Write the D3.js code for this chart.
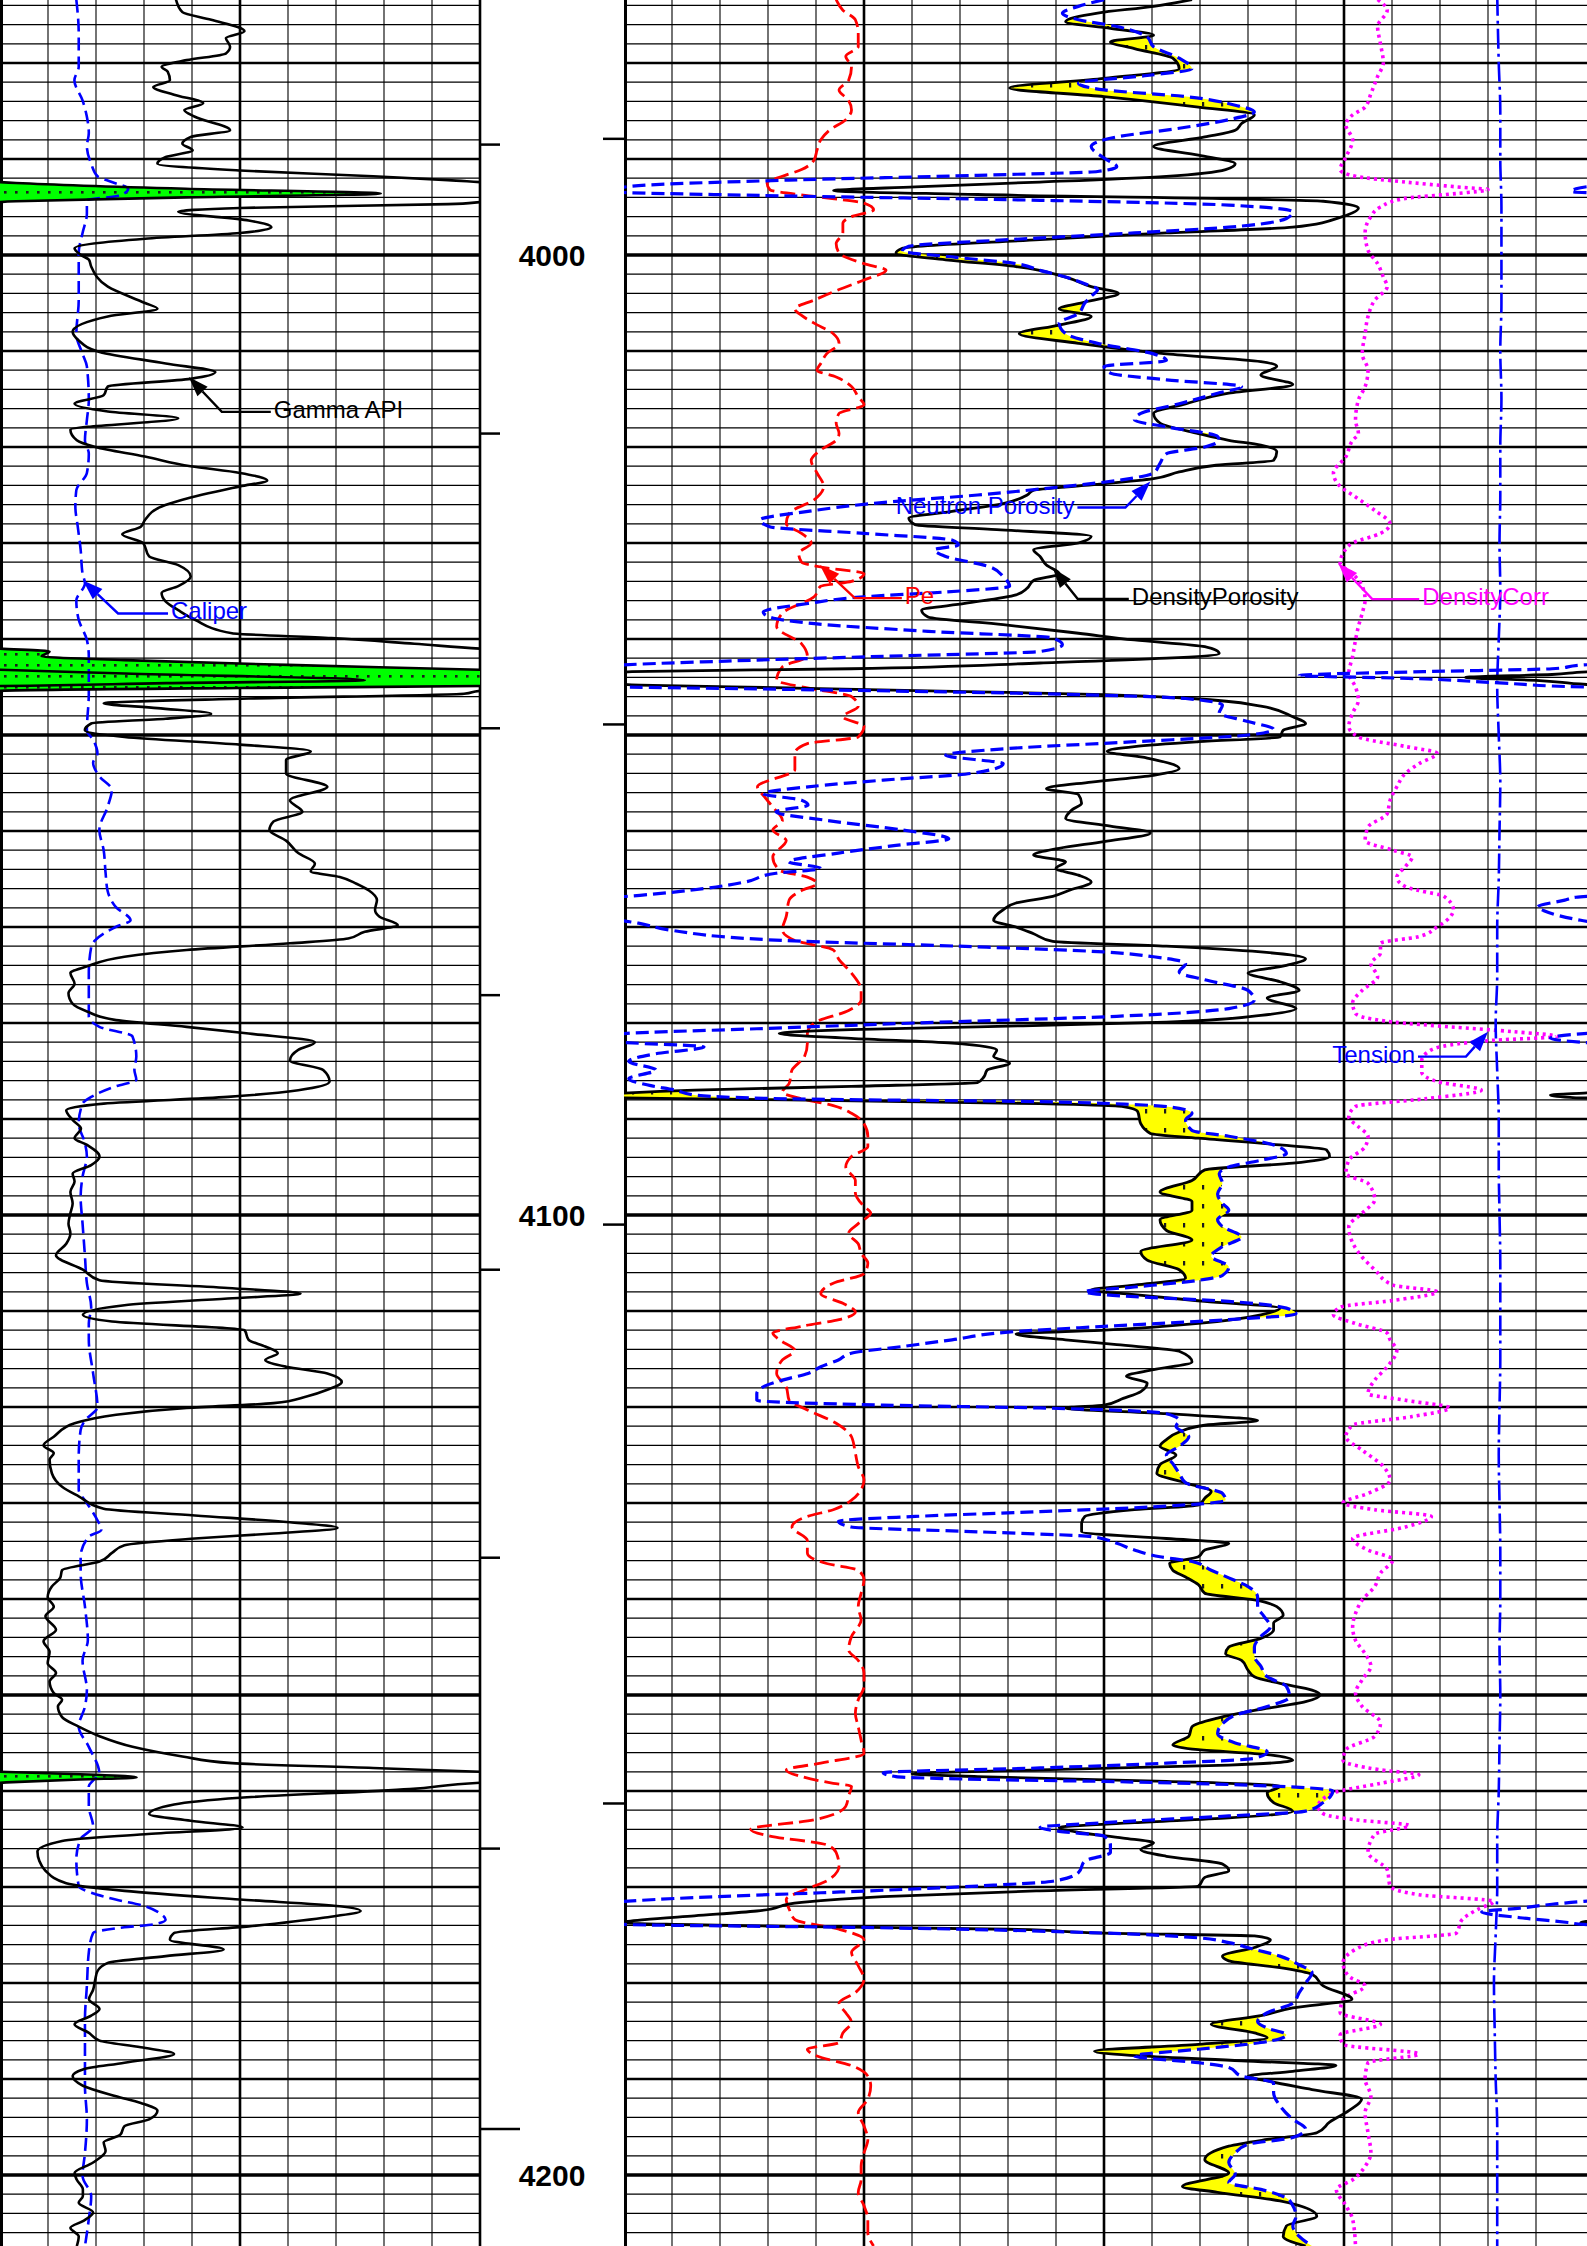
<!DOCTYPE html>
<html>
<head>
<meta charset="utf-8">
<script src="https://cdn.jsdelivr.net/npm/d3@7"></script>
<style>
  html, body { margin: 0; padding: 0; background: #fff; }
  svg { display: block; }
  text { font-family: "Liberation Sans", Arial, sans-serif; }
</style>
</head>
<body>
<div id="chart"></div>
<script>
// ---- datos del registro: [profundidad (ft), valor] ----
const gamma = [ // API
  [3973.4,55.0],[3974.7,57.0],[3975.5,66.0],[3976.7,76.4],[3977.4,70.6],[3978.3,71.9],[3979.0,70.6],[3979.7,58.3],
  [3980.4,50.5],[3980.9,52.4],[3981.8,53.1],[3982.5,47.9],[3983.3,54.4],[3984.2,63.5],[3984.9,57.6],[3985.6,60.9],
  [3987.0,71.9],[3987.7,59.6],[3988.4,57.0],[3989.1,60.2],[3989.8,51.8],[3990.5,49.2],[3991.2,75.0],[3991.8,116.6],
  [3992.2,140],[3992.5,155],[3993.1,208],[3993.6,269],[3994.0,208],[3994.4,155],[3994.7,140],[3995.1,75.0],
  [3995.5,55.7],[3996.4,77.7],[3997.1,84.8],[3997.7,75.0],[3998.3,45.3],[3999.3,23.3],[4000.0,25.3],[4000.5,27.8],
  [4001.2,28.5],[4003.3,33.7],[4005.0,45.3],[4005.6,49.2],[4006.4,33.7],[4008.0,22.7],[4008.9,24.6],[4010.1,31.1],
  [4011.3,51.8],[4012.2,67.3],[4012.9,59.6],[4013.7,33.7],[4014.6,32.4],[4015.5,23.3],[4016.3,33.7],[4017.0,55.7],
  [4018.2,22.0],[4019.3,24.0],[4020.0,29.8],[4021.0,45.3],[4022.0,59.6],[4022.7,75.0],[4023.5,83.5],[4024.1,75.0],
  [4025.5,57.0],[4026.2,50.5],[4027.6,45.3],[4028.3,44.0],[4029.1,38.2],[4030.0,44.7],[4031.4,46.6],[4032.3,55.7],
  [4033.5,59.6],[4034.5,55.7],[4035.2,50.5],[4036.1,51.8],[4037.0,55.7],[4038.0,60.9],[4039.4,72.5],[4039.9,103.6],
  [4040.5,129.5],[4041.0,150],[4041.3,165.5],[4041.8,163],[4042.2,189],[4042.7,240],[4043.2,300],[4043.6,339],
  [4044.3,414],[4044.6,352],[4044.9,300],[4045.1,225],[4045.4,150],[4045.7,145],[4046.2,77.7],[4046.7,32.4],
  [4047.2,49.2],[4047.8,66.0],[4048.3,51.8],[4048.8,28.5],[4049.5,26.5],[4050.2,38.9],[4051.0,75.0],[4051.7,97.1],
  [4052.6,89.4],[4054.0,89.4],[4055.4,102.3],[4056.8,90.6],[4058.0,94.5],[4059.0,85.5],[4059.9,84.2],[4061.0,89.4],
  [4062.3,93.2],[4063.4,98.4],[4064.2,97.1],[4064.8,106.2],[4065.5,111.4],[4066.2,115.3],[4067.2,117.8],[4068.2,117.2],
  [4068.9,118.5],[4069.8,124.3],[4070.5,114.0],[4071.2,108.8],[4071.7,90.6],[4072.4,58.3],[4073.1,38.9],[4074.1,27.2],
  [4074.8,22.0],[4075.9,23.3],[4076.9,21.4],[4078.0,22.7],[4078.8,27.2],[4079.7,36.3],[4080.4,58.3],[4081.1,77.7],
  [4082.0,98.4],[4082.8,93.2],[4083.9,90.6],[4084.9,101.0],[4086.1,103.0],[4087.0,93.2],[4087.7,71.2],[4088.4,32.4],
  [4089.1,20.7],[4090.1,22.7],[4091.0,25.3],[4092.0,23.3],[4092.7,27.2],[4093.9,31.1],[4094.8,28.5],[4095.7,22.7],
  [4096.5,23.3],[4097.6,22.0],[4098.8,22.7],[4099.8,22.0],[4100.9,21.4],[4101.9,22.0],[4103.0,20.7],[4104.2,17.5],
  [4105.7,25.9],[4106.8,31.1],[4107.6,71.2],[4108.2,93.9],[4108.7,71.2],[4109.4,38.9],[4110.4,25.9],[4111.1,35.0],
  [4112.0,76.4],[4113.0,77.7],[4113.7,82.9],[4114.4,86.8],[4115.1,82.9],[4115.8,89.4],[4116.5,102.3],[4117.4,106.8],
  [4118.2,102.3],[4118.9,95.8],[4119.6,85.5],[4120.1,58.3],[4120.8,36.3],[4121.7,23.3],[4123.1,16.8],[4124.0,13.6],
  [4124.8,16.8],[4125.5,15.5],[4126.9,16.2],[4128.3,19.4],[4129.3,24.6],[4130.6,32.4],[4131.3,60.9],[4132.0,90.6],
  [4132.6,105.5],[4133.2,84.2],[4133.7,60.9],[4134.4,38.9],[4135.2,35.0],[4136.1,31.1],[4137.0,19.4],[4137.8,18.8],
  [4138.7,16.2],[4139.8,14.9],[4140.8,16.8],[4141.8,14.2],[4143.2,17.5],[4144.4,13.6],[4145.5,15.5],[4146.7,14.9],
  [4147.7,17.5],[4148.6,15.5],[4149.8,16.8],[4150.5,19.4],[4151.2,18.1],[4152.3,19.4],[4153.3,24.6],[4154.3,31.1],
  [4155.4,41.4],[4156.4,57.0],[4157.1,72.5],[4157.6,116.6],[4158.0,150],[4158.3,180],[4158.6,192.7],[4158.8,175],
  [4159.1,152],[4159.8,128],[4160.7,75.0],[4161.4,54.4],[4162.4,46.6],[4163.1,59.6],[4163.8,75.8],[4164.5,45.3],
  [4165.2,19.4],[4166.3,11.7],[4167.3,12.3],[4168.3,14.2],[4169.6,20.7],[4170.4,38.9],[4171.3,75.0],[4172.0,106.2],
  [4172.5,112.7],[4173.2,101.0],[4174.1,77.7],[4174.8,54.4],[4175.5,53.1],[4176.5,69.9],[4177.2,51.8],[4177.9,33.7],
  [4178.8,30.4],[4179.6,29.8],[4180.7,29.1],[4181.7,27.8],[4182.7,31.1],[4183.4,28.5],[4184.3,23.3],[4185.2,27.8],
  [4186.0,31.1],[4186.7,44.0],[4187.4,54.4],[4188.3,38.9],[4189.0,25.9],[4189.7,22.7],[4190.7,25.9],[4191.8,36.3],
  [4192.5,44.0],[4193.3,49.2],[4194.2,46.6],[4194.9,38.9],[4195.8,37.6],[4196.6,32.4],[4197.5,33.0],[4198.7,29.1],
  [4199.8,23.3],[4200.5,24.0],[4201.5,25.9],[4202.2,25.9],[4202.9,24.6],[4203.9,29.1],[4204.8,25.9],[4205.5,22.0],
  [4206.4,24.6],[4207.4,24.0]
];

const caliper = [ // pulgadas
  [3973.4,7.59],[3976.9,7.64],[3980.4,7.64],[3981.8,7.55],[3983.9,7.72],[3985.6,7.81],[3987.3,7.85],[3988.7,7.81],
  [3990.5,7.90],[3991.8,8.03],[3992.4,8.33],[3993.1,8.67],[3993.8,8.50],[3994.3,7.81],[3995.7,7.81],[3997.7,7.72],
  [3999.8,7.64],[4004.7,7.64],[4008.2,7.59],[4010.3,7.72],[4011.6,7.81],[4015.1,7.85],[4017.2,7.81],[4019.3,7.77],
  [4020.7,7.85],[4022.7,7.81],[4024.5,7.59],[4026.2,7.57],[4028.3,7.62],[4030.7,7.68],[4033.2,7.72],[4034.2,7.77],
  [4036.0,7.59],[4038.0,7.64],[4040.1,7.81],[4041.8,7.85],[4045.7,7.85],[4049.5,7.81],[4050.5,7.94],[4051.9,8.03],
  [4052.9,7.94],[4054.3,8.07],[4055.7,8.33],[4057.5,8.24],[4059.9,8.07],[4062.0,8.16],[4064.4,8.20],[4066.2,8.24],
  [4067.9,8.41],[4069.3,8.72],[4070.0,8.41],[4071.4,7.98],[4072.1,7.90],[4074.8,7.85],[4079.3,7.85],[4080.4,8.07],
  [4081.4,8.76],[4083.5,8.84],[4084.9,8.80],[4085.9,8.84],[4086.6,8.41],[4087.7,7.90],[4088.4,7.72],[4090.5,7.64],
  [4092.5,7.77],[4093.9,7.81],[4096.0,7.72],[4098.1,7.68],[4100.9,7.72],[4104.3,7.77],[4107.1,7.81],[4109.6,7.90],
  [4111.3,7.85],[4113.0,7.85],[4116.5,7.94],[4120.0,8.03],[4121.4,7.77],[4122.4,7.68],[4125.2,7.64],[4128.6,7.64],
  [4130.0,7.81],[4131.8,8.03],[4132.8,8.11],[4133.5,7.85],[4135.6,7.68],[4137.3,7.68],[4140.8,7.77],[4144.3,7.83],
  [4146.4,7.72],[4149.5,7.81],[4151.2,7.77],[4153.3,7.64],[4155.4,7.85],[4158.2,8.07],[4158.9,7.94],[4159.5,7.85],
  [4161.6,7.85],[4163.7,7.94],[4165.0,7.68],[4167.1,7.59],[4169.9,7.64],[4170.6,7.90],[4171.3,8.41],[4172.0,9.02],
  [4172.7,9.32],[4173.4,9.45],[4173.9,9.19],[4174.2,8.59],[4174.8,7.94],[4176.8,7.85],[4180.3,7.81],[4183.8,7.77],
  [4190.7,7.77],[4194.2,7.81],[4197.7,7.77],[4200.1,7.72],[4202.2,7.90],[4204.6,7.85],[4207.4,7.77]
];

const densityPorosity = [ // v/v
  [3973.4,0.095],[3974.1,0.119],[3974.8,0.154],[3975.7,0.174],[3976.4,0.146],[3977.1,0.119],[3977.8,0.146],[3978.5,0.131],
  [3979.5,0.107],[3980.6,0.103],[3981.6,0.150],[3982.6,0.209],[3983.5,0.150],[3984.6,0.091],[3985.4,0.056],[3986.3,0.064],
  [3987.0,0.068],[3987.7,0.087],[3988.7,0.119],[3989.6,0.091],[3990.5,0.068],[3991.1,0.074],[3991.8,0.111],[3992.4,0.190],
  [3992.9,0.268],[3993.3,0.319],[3993.7,0.229],[3994.4,0.013],[3995.1,-0.009],[3996.0,0.001],[3997.1,0.032],[3997.7,0.111],
  [3998.4,0.190],[3999.3,0.276],[3999.8,0.280],[4000.5,0.249],[4001.2,0.205],[4002.3,0.174],[4003.3,0.158],[4004.0,0.141],
  [4004.9,0.162],[4005.6,0.178],[4006.4,0.158],[4007.3,0.178],[4008.2,0.203],[4009.2,0.166],[4010.3,0.111],[4011.1,0.052],
  [4011.6,0.042],[4012.5,0.052],[4013.5,0.032],[4014.4,0.072],[4015.5,0.099],[4016.5,0.119],[4017.5,0.115],[4018.6,0.091],
  [4019.3,0.072],[4019.8,0.052],[4020.5,0.042],[4021.4,0.044],[4021.9,0.080],[4022.6,0.103],[4023.3,0.119],[4024.0,0.162],
  [4024.5,0.194],[4025.0,0.198],[4025.9,0.213],[4026.7,0.245],[4027.4,0.272],[4028.1,0.268],[4028.6,0.217],[4029.3,0.158],
  [4030.0,0.166],[4030.7,0.194],[4031.4,0.190],[4032.3,0.186],[4033.2,0.178],[4033.9,0.194],[4034.7,0.198],[4035.4,0.205],
  [4036.3,0.237],[4037.0,0.264],[4037.7,0.260],[4038.5,0.213],[4039.4,0.166],[4040.1,0.131],[4040.8,0.087],[4041.5,0.078],
  [4042.0,0.111],[4042.5,0.190],[4043.1,0.308],[4043.4,0.445],[4043.7,0.470],[4044.0,0.524],[4044.3,0.480],[4044.8,0.440],
  [4045.1,0.347],[4045.5,0.229],[4045.8,0.150],[4046.2,0.095],[4047.0,0.052],[4048.1,0.032],[4048.8,0.024],[4049.5,0.038],
  [4050.2,0.040],[4050.7,0.091],[4051.2,0.131],[4051.7,0.148],[4052.4,0.123],[4053.5,0.103],[4054.2,0.119],[4054.9,0.158],
  [4055.6,0.186],[4056.2,0.166],[4057.1,0.164],[4057.8,0.170],[4058.7,0.174],[4059.5,0.146],[4060.2,0.121],[4061.1,0.150],
  [4061.8,0.178],[4062.5,0.194],[4063.2,0.174],[4063.9,0.180],[4064.6,0.166],[4065.3,0.158],[4066.2,0.172],[4066.8,0.182],
  [4067.5,0.205],[4068.2,0.213],[4069.3,0.219],[4070.0,0.205],[4070.7,0.194],[4071.5,0.182],[4072.0,0.111],[4072.6,0.052],
  [4073.3,0.024],[4074.0,0.036],[4074.8,0.060],[4075.7,0.040],[4076.6,0.028],[4077.4,0.048],[4078.5,0.030],[4079.2,0.052],
  [4079.9,0.111],[4080.4,0.229],[4080.7,0.308],[4081.1,0.353],[4081.6,0.308],[4082.1,0.245],[4082.8,0.217],[4083.5,0.219],
  [4084.2,0.209],[4084.9,0.223],[4085.6,0.225],[4086.2,0.229],[4086.6,0.308],[4087.0,0.406],[4087.3,0.450],[4087.5,0.471],
  [4087.8,0.455],[4088.0,0.347],[4088.4,0.190],[4088.7,0.138],[4089.2,0.129],[4090.5,0.127],[4091.5,0.121],[4092.0,0.091],
  [4092.7,0.040],[4093.2,0.011],[4093.9,0.009],[4094.6,0.032],[4095.3,0.087],[4096.4,0.095],[4097.6,0.115],[4098.6,0.095],
  [4099.5,0.095],[4100.5,0.115],[4101.6,0.111],[4102.6,0.095],[4103.8,0.127],[4104.7,0.123],[4105.7,0.103],[4106.6,0.099],
  [4107.3,0.131],[4107.8,0.158],[4108.3,0.131],[4109.0,0.087],[4109.7,0.040],[4110.4,0.052],[4111.3,0.091],[4112.0,0.150],
  [4112.4,0.205],[4113.0,0.174],[4113.5,0.142],[4114.2,0.103],[4115.3,0.095],[4116.1,0.119],[4116.8,0.136],[4117.5,0.123],
  [4118.4,0.127],[4119.1,0.138],[4119.8,0.150],[4120.1,0.174],[4120.7,0.111],[4121.4,0.054],[4121.9,0.087],[4122.6,0.103],
  [4123.4,0.111],[4124.1,0.115],[4125.0,0.105],[4126.0,0.115],[4126.9,0.117],[4127.9,0.099],[4128.8,0.083],[4129.5,0.087],
  [4130.2,0.091],[4130.7,0.131],[4131.4,0.162],[4132.1,0.164],[4133.0,0.164],[4133.7,0.111],[4134.2,0.072],[4134.9,0.087],
  [4135.6,0.091],[4136.3,0.109],[4137.0,0.107],[4137.7,0.099],[4138.5,0.091],[4139.4,0.087],[4140.1,0.056],[4140.8,0.042],
  [4141.7,0.038],[4142.5,0.044],[4143.2,0.044],[4144.1,0.052],[4145.0,0.072],[4145.7,0.074],[4146.4,0.064],[4147.4,0.060],
  [4148.1,0.056],[4148.8,0.040],[4149.5,0.020],[4150.0,0.015],[4150.7,0.024],[4151.6,0.056],[4152.4,0.079],[4153.3,0.095],
  [4154.3,0.097],[4155.2,0.107],[4155.7,0.091],[4156.2,0.048],[4156.8,0.032],[4157.3,0.072],[4157.8,0.190],[4158.2,0.270],
  [4158.5,0.229],[4159.0,0.111],[4159.5,0.040],[4160.2,0.048],[4161.2,0.044],[4162.1,0.032],[4162.8,0.072],[4163.3,0.131],
  [4163.8,0.178],[4164.3,0.166],[4164.9,0.138],[4165.4,0.119],[4166.1,0.127],[4166.8,0.111],[4167.6,0.076],[4168.3,0.072],
  [4169.0,0.087],[4169.9,0.091],[4170.4,0.190],[4171.0,0.288],[4171.6,0.339],[4172.5,0.367],[4173.0,0.406],[4173.4,0.437],
  [4173.7,0.452],[4174.1,0.347],[4174.4,0.210],[4174.8,0.150],[4175.1,0.056],[4175.5,0.046],[4176.3,0.056],[4177.2,0.076],
  [4177.7,0.072],[4178.4,0.040],[4179.1,0.020],[4180.3,0.013],[4181.7,-0.005],[4182.6,0.032],[4183.4,0.052],[4184.3,0.083],
  [4185.2,0.056],[4185.7,0.048],[4186.4,0.091],[4187.1,0.156],[4187.6,0.127],[4188.1,0.064],[4188.6,0.005],[4189.2,0.032],
  [4189.7,0.060],[4190.2,0.048],[4191.1,0.020],[4192.1,-0.011],[4193.3,-0.003],[4194.5,0.009],[4195.6,0.017],[4196.3,0.048],
  [4197.0,0.072],[4198.4,0.087],[4199.8,0.072],[4201.2,0.101],[4201.8,0.079],[4202.7,0.040],[4204.3,0.017],[4205.3,0.036],
  [4206.4,0.038],[4207.4,0.024]
];

const neutronPorosity = [ // v/v
  [3973.4,0.150],[3974.1,0.166],[3974.8,0.176],[3975.5,0.166],[3976.2,0.142],[3977.3,0.123],[3978.3,0.119],[3979.5,0.103],
  [3980.6,0.095],[3981.3,0.123],[3982.1,0.166],[3982.8,0.150],[3983.5,0.099],[3984.4,0.068],[3985.1,0.056],[3985.9,0.072],
  [3986.8,0.103],[3987.7,0.142],[3988.7,0.158],[3989.9,0.150],[3990.8,0.142],[3991.3,0.154],[3991.7,0.229],[3992.2,0.347],
  [3992.7,0.434],[3993.1,0.455],[3993.4,0.458],[3993.8,0.363],[3994.3,0.190],[3994.8,0.072],[3995.5,0.032],[3996.2,0.036],
  [3997.1,0.072],[3997.7,0.131],[3998.4,0.209],[3999.1,0.272],[3999.6,0.276],[4000.2,0.245],[4000.9,0.205],[4001.6,0.190],
  [4002.3,0.174],[4003.0,0.162],[4003.6,0.154],[4004.3,0.158],[4005.0,0.162],[4006.1,0.166],[4007.1,0.178],[4008.2,0.174],
  [4009.2,0.154],[4010.3,0.119],[4011.0,0.111],[4011.6,0.150],[4012.3,0.146],[4013.0,0.111],[4013.7,0.064],[4014.4,0.079],
  [4015.5,0.103],[4016.5,0.127],[4017.2,0.131],[4017.9,0.111],[4018.9,0.079],[4019.3,0.078],[4020.0,0.087],[4020.7,0.111],
  [4021.7,0.115],[4022.7,0.119],[4023.4,0.138],[4024.1,0.174],[4025.0,0.229],[4025.9,0.296],[4026.7,0.335],[4027.6,0.365],
  [4028.3,0.359],[4029.0,0.300],[4029.7,0.245],[4030.2,0.241],[4030.7,0.256],[4031.4,0.249],[4032.5,0.221],[4033.5,0.213],
  [4034.5,0.209],[4035.1,0.249],[4035.6,0.300],[4036.3,0.335],[4037.2,0.363],[4037.7,0.359],[4038.4,0.331],[4039.2,0.260],
  [4039.9,0.182],[4040.6,0.176],[4041.3,0.190],[4041.8,0.288],[4042.3,0.386],[4042.7,0.450],[4043.1,0.470],[4043.4,0.550],
  [4043.8,0.628],[4044.1,0.560],[4044.6,0.500],[4045.0,0.450],[4045.2,0.367],[4045.7,0.190],[4046.2,0.099],[4046.9,0.076],
  [4047.7,0.078],[4048.6,0.060],[4049.4,0.044],[4050.0,0.060],[4050.7,0.131],[4051.4,0.209],[4052.1,0.249],[4053.0,0.213],
  [4054.0,0.233],[4054.7,0.288],[4055.4,0.335],[4056.1,0.363],[4056.8,0.339],[4057.3,0.335],[4058.0,0.355],[4058.9,0.323],
  [4059.9,0.276],[4060.8,0.247],[4061.5,0.280],[4062.3,0.316],[4063.2,0.347],[4063.9,0.327],[4064.4,0.355],[4065.3,0.374],
  [4066.0,0.400],[4066.7,0.440],[4066.9,0.455],[4067.2,0.462],[4067.9,0.479],[4068.3,0.475],[4068.8,0.466],[4069.3,0.452],
  [4069.6,0.441],[4070.3,0.422],[4071.4,0.351],[4072.0,0.241],[4072.6,0.150],[4073.1,0.119],[4073.8,0.099],[4074.7,0.103],
  [4075.5,0.087],[4076.6,0.060],[4077.6,0.056],[4078.5,0.072],[4079.3,0.142],[4080.0,0.268],[4080.6,0.367],[4081.1,0.450],
  [4081.6,0.471],[4082.0,0.452],[4082.5,0.400],[4083.2,0.430],[4084.0,0.447],[4084.9,0.430],[4085.8,0.447],[4086.5,0.434],
  [4087.0,0.418],[4087.5,0.406],[4087.9,0.347],[4088.2,0.190],[4088.5,0.131],[4088.9,0.103],[4089.4,0.095],[4090.1,0.099],
  [4091.2,0.095],[4091.8,0.072],[4092.7,0.044],[4093.6,0.036],[4094.3,0.052],[4095.0,0.072],[4095.7,0.078],[4096.7,0.076],
  [4097.8,0.079],[4098.8,0.076],[4099.5,0.072],[4100.5,0.079],[4101.2,0.076],[4102.3,0.064],[4103.3,0.076],[4104.3,0.083],
  [4105.4,0.072],[4106.3,0.076],[4106.8,0.091],[4107.5,0.131],[4108.0,0.162],[4108.3,0.150],[4109.0,0.072],[4109.7,0.036],
  [4110.3,0.030],[4110.9,0.072],[4111.6,0.150],[4112.2,0.210],[4113.0,0.245],[4113.7,0.276],[4114.4,0.308],[4115.1,0.316],
  [4115.8,0.327],[4116.5,0.335],[4117.2,0.351],[4117.9,0.363],[4118.6,0.367],[4119.3,0.367],[4119.8,0.288],[4120.1,0.190],
  [4120.7,0.111],[4121.4,0.103],[4122.0,0.105],[4123.1,0.097],[4124.1,0.103],[4125.0,0.111],[4125.9,0.107],[4126.9,0.103],
  [4127.9,0.099],[4129.0,0.076],[4129.7,0.074],[4130.4,0.119],[4130.9,0.190],[4131.4,0.268],[4131.9,0.316],[4132.5,0.308],
  [4133.0,0.229],[4133.5,0.158],[4134.2,0.142],[4134.9,0.131],[4135.6,0.115],[4136.1,0.095],[4137.0,0.083],[4137.8,0.072],
  [4138.7,0.060],[4139.8,0.054],[4140.8,0.054],[4141.8,0.050],[4142.9,0.046],[4143.9,0.052],[4145.0,0.056],[4146.0,0.056],
  [4147.0,0.052],[4148.1,0.048],[4149.1,0.036],[4150.2,0.034],[4151.2,0.048],[4152.1,0.068],[4153.0,0.076],[4154.0,0.079],
  [4155.0,0.068],[4155.9,0.048],[4156.6,0.056],[4157.1,0.111],[4157.6,0.190],[4158.1,0.288],[4158.5,0.280],[4158.9,0.190],
  [4159.0,0.150],[4160.0,0.007],[4161.2,0.013],[4162.1,0.024],[4162.6,0.072],[4163.3,0.150],[4163.8,0.190],[4164.2,0.178],
  [4164.7,0.150],[4165.6,0.146],[4166.4,0.146],[4167.3,0.162],[4168.5,0.166],[4169.4,0.182],[4169.9,0.229],[4170.6,0.327],
  [4171.1,0.406],[4171.5,0.450],[4171.8,0.470],[4172.2,0.490],[4172.6,0.514],[4173.2,0.490],[4173.7,0.460],[4173.9,0.450],
  [4174.2,0.308],[4174.8,0.150],[4175.3,0.091],[4175.8,0.072],[4176.5,0.056],[4177.2,0.040],[4178.1,0.028],[4178.9,0.020],
  [4180.0,0.024],[4181.0,0.028],[4182.1,0.032],[4183.1,0.048],[4184.0,0.054],[4184.7,0.048],[4185.4,0.036],[4186.2,0.052],
  [4186.9,0.091],[4187.6,0.131],[4188.3,0.091],[4188.8,0.072],[4189.7,0.064],[4190.4,0.044],[4191.4,0.044],[4192.8,0.040],
  [4194.2,0.032],[4195.2,0.024],[4196.1,0.032],[4196.8,0.060],[4197.7,0.068],[4198.7,0.072],[4199.9,0.068],[4200.8,0.072],
  [4201.5,0.052],[4202.4,0.036],[4203.2,0.032],[4204.3,0.030],[4205.3,0.032],[4206.4,0.028],[4207.4,0.020]
];

const photoElectric = [ // b/e
  [3973.4,2.21],[3974.5,2.28],[3975.5,2.41],[3976.9,2.44],[3978.3,2.44],[3979.3,2.31],[3980.4,2.37],[3981.8,2.34],
  [3982.8,2.24],[3983.9,2.34],[3984.9,2.37],[3985.9,2.31],[3987.0,2.14],[3988.0,2.05],[3989.1,2.01],[3990.1,1.98],
  [3991.1,1.85],[3991.8,1.65],[3992.5,1.49],[3993.2,1.52],[3993.9,1.98],[3994.6,2.50],[3995.3,2.60],[3996.0,2.37],
  [3996.7,2.28],[3997.7,2.28],[3998.8,2.21],[3999.8,2.24],[4000.9,2.50],[4001.6,2.73],[4002.6,2.50],[4003.6,2.24],
  [4004.7,1.98],[4005.6,1.78],[4006.3,1.85],[4007.1,1.98],[4008.2,2.18],[4009.2,2.24],[4010.3,2.11],[4011.3,2.05],
  [4012.0,2.01],[4012.7,2.21],[4013.7,2.37],[4014.8,2.44],[4015.6,2.50],[4016.5,2.24],[4017.5,2.21],[4018.6,2.24],
  [4019.3,2.21],[4020.3,2.05],[4021.4,1.95],[4022.7,2.01],[4024.1,2.08],[4025.5,1.98],[4026.9,1.72],[4028.0,1.69],
  [4029.0,1.85],[4030.0,1.95],[4031.1,1.82],[4032.0,1.85],[4032.5,2.05],[4033.2,2.50],[4034.0,2.37],[4034.5,2.05],
  [4035.6,1.98],[4037.3,1.65],[4038.7,1.59],[4040.5,1.85],[4041.8,1.91],[4042.9,1.65],[4044.3,1.59],[4045.1,1.91],
  [4046.0,2.37],[4047.0,2.44],[4048.1,2.28],[4049.1,2.50],[4050.2,2.44],[4050.9,1.91],[4051.9,1.78],[4053.6,1.78],
  [4055.4,1.39],[4056.4,1.46],[4057.5,1.55],[4058.9,1.65],[4059.9,1.55],[4061.0,1.69],[4062.7,1.55],[4064.1,1.62],
  [4064.8,1.91],[4065.5,2.01],[4066.2,1.85],[4067.2,1.72],[4068.9,1.69],[4070.3,1.65],[4071.4,1.78],[4072.4,2.18],
  [4073.4,2.24],[4074.8,2.37],[4076.6,2.47],[4077.6,2.47],[4078.7,2.34],[4080.0,1.98],[4081.1,1.91],[4082.1,1.91],
  [4083.5,1.88],[4084.9,1.75],[4086.3,1.72],[4087.2,1.65],[4087.9,1.85],[4088.6,2.18],[4089.4,2.37],[4090.5,2.50],
  [4091.8,2.54],[4092.9,2.54],[4093.9,2.37],[4095.0,2.31],[4096.4,2.41],[4097.7,2.41],[4099.1,2.50],[4099.8,2.57],
  [4100.9,2.44],[4101.9,2.34],[4103.0,2.44],[4104.0,2.47],[4105.0,2.54],[4106.1,2.50],[4107.1,2.18],[4108.2,2.05],
  [4109.2,2.28],[4110.1,2.41],[4110.9,2.24],[4111.6,1.85],[4112.3,1.55],[4113.0,1.62],[4114.1,1.78],[4115.1,1.65],
  [4116.5,1.59],[4117.9,1.69],[4119.3,1.72],[4120.3,1.91],[4121.7,2.21],[4123.1,2.37],[4124.8,2.41],[4126.2,2.44],
  [4127.6,2.50],[4128.6,2.47],[4129.7,2.37],[4130.7,2.18],[4131.4,1.91],[4132.5,1.75],[4133.9,1.91],[4135.2,1.91],
  [4136.3,2.11],[4137.0,2.44],[4138.0,2.50],[4139.4,2.47],[4140.8,2.44],[4142.2,2.47],[4143.9,2.37],[4145.3,2.34],
  [4146.4,2.44],[4147.7,2.50],[4149.1,2.50],[4150.5,2.44],[4151.9,2.41],[4153.3,2.44],[4154.7,2.47],[4156.1,2.50],
  [4157.1,2.05],[4157.8,1.69],[4158.5,1.85],[4159.2,2.18],[4159.5,2.37],[4160.5,2.34],[4161.6,2.31],[4163.0,1.98],
  [4164.0,1.32],[4164.7,1.52],[4165.6,2.11],[4166.4,2.21],[4167.8,2.24],[4169.2,2.14],[4170.2,1.91],[4171.3,1.69],
  [4172.3,1.72],[4173.4,1.78],[4174.4,2.24],[4175.5,2.50],[4176.8,2.37],[4178.2,2.44],[4179.6,2.50],[4181.0,2.41],
  [4182.1,2.24],[4183.1,2.31],[4184.1,2.37],[4185.2,2.28],[4186.2,2.24],[4186.9,1.91],[4187.6,2.01],[4188.6,2.37],
  [4189.7,2.54],[4190.7,2.57],[4192.1,2.54],[4193.5,2.44],[4194.9,2.50],[4196.3,2.54],[4197.7,2.50],[4199.1,2.47],
  [4200.5,2.47],[4201.8,2.44],[4203.2,2.50],[4204.6,2.54],[4206.0,2.54],[4207.4,2.60]
];

const densityCorr = [ // g/cc
  [3973.4,0.035],[3974.5,0.045],[3976.2,0.035],[3978.0,0.038],[3980.0,0.041],[3981.4,0.035],[3983.2,0.028],[3984.6,0.022],
  [3985.4,0.009],[3986.5,0.002],[3988.0,0.009],[3989.8,0.002],[3991.1,-0.004],[3991.8,0.012],[3992.4,0.064],[3992.9,0.117],
  [3993.2,0.150],[3993.6,0.117],[3994.1,0.064],[3995.0,0.038],[3996.0,0.028],[3997.7,0.022],[3999.5,0.025],[4000.9,0.035],
  [4002.3,0.041],[4003.3,0.045],[4004.7,0.032],[4006.4,0.025],[4008.2,0.022],[4010.3,0.019],[4012.0,0.025],[4013.7,0.022],
  [4015.1,0.015],[4017.2,0.012],[4018.6,0.015],[4019.3,0.009],[4021.0,0.002],[4022.7,-0.011],[4024.1,-0.004],[4025.2,0.012],
  [4026.6,0.032],[4028.0,0.048],[4029.0,0.038],[4030.0,0.009],[4031.1,-0.001],[4032.1,-0.004],[4033.2,0.009],[4034.5,0.019],
  [4035.9,0.022],[4037.3,0.019],[4038.7,0.015],[4040.1,0.012],[4041.8,0.009],[4043.6,0.005],[4045.0,0.012],[4046.4,0.015],
  [4047.7,0.009],[4049.1,0.005],[4050.2,0.015],[4051.2,0.064],[4051.9,0.097],[4053.0,0.078],[4054.0,0.064],[4055.4,0.055],
  [4056.8,0.048],[4058.2,0.045],[4059.6,0.025],[4061.0,0.022],[4062.0,0.051],[4062.7,0.071],[4063.7,0.064],[4064.8,0.055],
  [4065.8,0.064],[4066.2,0.078],[4066.8,0.104],[4068.2,0.114],[4069.3,0.107],[4070.0,0.097],[4071.0,0.078],[4071.7,0.038],
  [4072.7,0.038],[4073.8,0.028],[4075.2,0.035],[4076.6,0.019],[4077.9,0.009],[4079.0,0.012],[4079.9,0.051],[4080.4,0.110],
  [4080.9,0.176],[4081.4,0.222],[4081.8,0.156],[4082.3,0.110],[4082.8,0.091],[4083.9,0.081],[4085.1,0.081],[4086.1,0.097],
  [4087.0,0.143],[4087.9,0.084],[4088.7,0.012],[4089.8,0.005],[4090.8,0.015],[4091.8,0.025],[4092.9,0.022],[4094.3,0.005],
  [4095.7,0.002],[4096.7,0.025],[4098.4,0.032],[4099.8,0.019],[4101.2,0.005],[4102.9,0.009],[4104.4,0.019],[4105.7,0.032],
  [4107.3,0.051],[4108.0,0.097],[4108.9,0.051],[4109.6,-0.004],[4110.4,-0.011],[4111.3,0.012],[4112.3,0.045],[4113.0,0.048],
  [4114.1,0.055],[4115.8,0.045],[4117.2,0.032],[4118.6,0.025],[4119.3,0.064],[4120.1,0.110],[4121.0,0.071],[4121.9,0.009],
  [4123.1,0.002],[4124.5,0.019],[4126.2,0.041],[4127.6,0.048],[4129.0,0.025],[4130.0,-0.001],[4130.7,0.032],[4131.4,0.091],
  [4132.5,0.064],[4133.7,0.009],[4134.9,0.025],[4135.9,0.051],[4137.3,0.038],[4138.7,0.032],[4140.1,0.019],[4141.5,0.012],
  [4142.9,0.009],[4144.3,0.012],[4145.7,0.022],[4147.0,0.028],[4148.4,0.019],[4149.8,0.012],[4151.2,0.019],[4152.9,0.038],
  [4154.3,0.032],[4155.7,0.002],[4156.8,-0.001],[4157.8,0.038],[4158.3,0.078],[4159.2,0.038],[4160.2,-0.011],[4161.6,-0.027],
  [4162.4,-0.021],[4163.0,0.012],[4163.6,0.068],[4164.5,0.032],[4166.4,0.025],[4168.2,0.045],[4169.9,0.048],[4170.8,0.078],
  [4171.5,0.156],[4172.3,0.140],[4173.4,0.123],[4174.8,0.117],[4175.5,0.045],[4176.5,0.012],[4177.9,-0.001],[4179.3,0.005],
  [4180.3,0.022],[4181.7,-0.001],[4183.1,-0.004],[4184.3,0.038],[4185.4,-0.004],[4186.4,-0.001],[4187.4,0.078],[4188.3,0.025],
  [4190.0,0.022],[4191.8,0.028],[4193.5,0.022],[4195.6,0.025],[4197.7,0.028],[4199.1,0.022],[4200.5,0.009],[4201.5,-0.008],
  [4203.2,0.002],[4204.6,0.009],[4207.4,0.012]
];

const tension = [ // lbs
  [3973,4548],[3980,4556],[3985,4564],[3990,4564],[3995,4570],[4000,4570],[4005,4570],[4010,4564],[4015,4570],[4020,4564],
  [4025,4564],[4030,4560],[4035,4564],[4040,4556],[4045,4548],[4050,4556],[4055,4564],[4060,4560],[4065,4556],[4070,4548],
  [4075,4548],[4080,4540],[4085,4548],[4090,4556],[4095,4556],[4100,4560],[4105,4564],[4110,4564],[4115,4564],[4120,4560],
  [4125,4556],[4130,4560],[4135,4564],[4140,4564],[4145,4560],[4150,4564],[4155,4560],[4160,4556],[4165,4548],[4170,4548],
  [4175,4540],[4180,4531],[4185,4535],[4190,4540],[4195,4548],[4200,4548],[4208,4548]
];

// escalas de cada curva (izquierda -> derecha del carril)
const gammaRange = [0, 150];
const caliperRange = [6, 16];
const porosityRange = [0.45, -0.15];
const peRange = [0, 10];
const densityCorrRange = [-0.75, 0.25];
const tensionRange = [0, 5000];

// etiquetas de profundidad y marcas del carril central
const depthLabels = [4000, 4100, 4200];
const leftTickDepths = [3988.5, 4018.6, 4049.3, 4077.1, 4105.7, 4135.7, 4166.0];
const leftLongTickDepths = [4195.2];
const rightTickDepths = [3987.9, 4048.9, 4101.0, 4161.3];

// ---- medidas ----
const width = 1587;
const height = 2246;
const leftW = 480;
const rightX = 624;
const rightW = 960;
const fontFamily = '"Liberation Sans", Arial, sans-serif';

const y = d3.scaleLinear().domain([4000, 4100]).range([255, 1215]);
const topDepth = y.invert(0);
const bottomDepth = y.invert(height);

const xGamma = d3.scaleLinear().domain(gammaRange).range([0, leftW]);
const xCal = d3.scaleLinear().domain(caliperRange).range([0, leftW]);
const xPor = d3.scaleLinear().domain(porosityRange).range([0, rightW]);
const xPe = d3.scaleLinear().domain(peRange).range([0, rightW]);
const xDrho = d3.scaleLinear().domain(densityCorrRange).range([0, rightW]);
const xTen = d3.scaleLinear().domain(tensionRange).range([0, rightW]);

const toPoints = arr => d3.sort(arr.map(([depth, value]) => ({depth, value})), d => d.depth);

const svg = d3.select('#chart').append('svg')
  .attr('width', width)
  .attr('height', height)
  .style('background', '#fff');

const defs = svg.append('defs');

defs.append('clipPath').attr('id', 'clip-left')
  .append('rect').attr('x', 0).attr('y', 0).attr('width', leftW).attr('height', height);
defs.append('clipPath').attr('id', 'clip-right')
  .append('rect').attr('x', 0).attr('y', 0).attr('width', width - rightX).attr('height', height);

// relleno verde con puntos
const pg = defs.append('pattern').attr('id', 'pat-green')
  .attr('patternUnits', 'userSpaceOnUse').attr('width', 11).attr('height', 11);
pg.append('rect').attr('width', 11).attr('height', 11).attr('fill', '#00ff00');
pg.append('rect').attr('x', 4).attr('y', 4).attr('width', 2.6).attr('height', 2.6).attr('fill', '#1a1a1a');

// relleno amarillo con puntos
const py = defs.append('pattern').attr('id', 'pat-yellow')
  .attr('patternUnits', 'userSpaceOnUse').attr('width', 19).attr('height', 19);
py.append('rect').attr('width', 19).attr('height', 19).attr('fill', '#ffff00');
py.append('rect').attr('x', 8).attr('y', 7).attr('width', 2.2).attr('height', 4.5).attr('fill', '#1a1a1a');

// ---- cuadrícula ----
const gridDepths = d3.range(Math.ceil(topDepth / 2) * 2, bottomDepth, 2);
const hWidth = d => d % 50 === 0 ? 3.4 : d % 10 === 0 ? 2.6 : 1.3;

function drawGrid(g, w, nLines) {
  g.append('g').selectAll('line')
    .data(gridDepths)
    .join('line')
    .attr('x1', 0).attr('x2', w)
    .attr('y1', d => y(d)).attr('y2', d => y(d))
    .attr('stroke', '#000')
    .attr('stroke-width', hWidth);
  g.append('g').selectAll('line')
    .data(d3.range(0, nLines))
    .join('line')
    .attr('x1', k => k * 48 + (k === 0 ? 1.5 : 0)).attr('x2', k => k * 48 + (k === 0 ? 1.5 : 0))
    .attr('y1', 0).attr('y2', height)
    .attr('stroke', '#000')
    .attr('stroke-width', k => k === 0 ? 3 : k % 5 === 0 ? 2.6 : 1.1);
}

const gLeft = svg.append('g');
const gRight = svg.append('g').attr('transform', `translate(${rightX},0)`);

drawGrid(gLeft, leftW, 11);
drawGrid(gRight, width - rightX, 20);

// ---- curvas ----
function drawCurve(g, data, x, shifts, style) {
  const line = d3.line()
    .x(d => x(d.value))
    .y(d => y(d.depth))
    .curve(d3.curveMonotoneY);
  shifts.forEach(s => {
    g.append('path')
      .datum(data)
      .attr('transform', `translate(${s},0)`)
      .attr('d', line)
      .attr('fill', 'none')
      .attr('stroke', style.color)
      .attr('stroke-width', style.width)
      .attr('stroke-dasharray', style.dash || null)
      .attr('stroke-linejoin', 'round');
  });
}

const gammaPts = toPoints(gamma);
const caliperPts = toPoints(caliper);
const dphiPts = toPoints(densityPorosity);
const nphiPts = toPoints(neutronPorosity);
const pePts = toPoints(photoElectric);
const drhoPts = toPoints(densityCorr);
const tensionPts = toPoints(tension);

// carril izquierdo
const leftPlot = gLeft.append('g').attr('clip-path', 'url(#clip-left)');

// relleno verde: parte del gamma que se sale de escala (vuelta)
leftPlot.append('path')
  .datum(gammaPts)
  .attr('d', d3.area()
    .y(d => y(d.depth))
    .x0(-2)
    .x1(d => xGamma(d.value) - leftW)
    .curve(d3.curveMonotoneY))
  .attr('fill', 'url(#pat-green)');

drawCurve(leftPlot, caliperPts, xCal, [0], {color: '#0000ff', width: 2.6, dash: '13,6'});
drawCurve(leftPlot, gammaPts, xGamma, [0, -leftW, -2 * leftW], {color: '#000', width: 2.6});

// carril derecho
const rightPlot = gRight.append('g').attr('clip-path', 'url(#clip-right)');

// relleno amarillo: densidad a la izquierda del neutrón (cruce)
defs.append('clipPath').attr('id', 'clip-right-of-density')
  .append('path')
  .datum(dphiPts)
  .attr('d', d3.area()
    .y(d => y(d.depth))
    .x0(3000)
    .x1(d => xPor(d.value))
    .curve(d3.curveMonotoneY));

rightPlot.append('g')
  .attr('clip-path', 'url(#clip-right-of-density)')
  .append('path')
  .datum(nphiPts)
  .attr('d', d3.area()
    .y(d => y(d.depth))
    .x0(-3000)
    .x1(d => xPor(d.value))
    .curve(d3.curveMonotoneY))
  .attr('fill', 'url(#pat-yellow)');

const wrapShifts = [0, -rightW, rightW];
drawCurve(rightPlot, pePts, xPe, [0], {color: '#ff0000', width: 2.8, dash: '15,6'});
drawCurve(rightPlot, drhoPts, xDrho, [0], {color: '#ff00ff', width: 3.6, dash: '3,4'});
drawCurve(rightPlot, tensionPts, xTen, [0], {color: '#0000ff', width: 2.6, dash: '20,5,3,5'});
drawCurve(rightPlot, dphiPts, xPor, wrapShifts, {color: '#000', width: 2.8});
drawCurve(rightPlot, nphiPts, xPor, wrapShifts, {color: '#0000ff', width: 3.2, dash: '13,6'});

// ---- carril de profundidad ----
const gDepth = svg.append('g');
gDepth.selectAll('text')
  .data(depthLabels)
  .join('text')
  .attr('x', (leftW + rightX) / 2)
  .attr('y', d => y(d))
  .attr('text-anchor', 'middle')
  .attr('dominant-baseline', 'central')
  .attr('font-family', fontFamily)
  .attr('font-weight', 'bold')
  .attr('font-size', 30)
  .text(d => d);

gDepth.append('g').selectAll('line')
  .data(leftTickDepths)
  .join('line')
  .attr('x1', leftW).attr('x2', leftW + 20)
  .attr('y1', d => y(d)).attr('y2', d => y(d))
  .attr('stroke', '#000').attr('stroke-width', 2.5);
gDepth.append('g').selectAll('line')
  .data(leftLongTickDepths)
  .join('line')
  .attr('x1', leftW).attr('x2', leftW + 40)
  .attr('y1', d => y(d)).attr('y2', d => y(d))
  .attr('stroke', '#000').attr('stroke-width', 2.5);
gDepth.append('g').selectAll('line')
  .data(rightTickDepths)
  .join('line')
  .attr('x1', rightX - 21).attr('x2', rightX)
  .attr('y1', d => y(d)).attr('y2', d => y(d))
  .attr('stroke', '#000').attr('stroke-width', 2.5);

// ---- nombres de curvas con flecha ----
const curveLabels = [
  {text: 'Gamma API', color: '#000', x: v => xGamma(v), depth: 4012.7, value: 59, knee: [33, 35], end: 82, anchor: 'start'},
  {text: 'Caliper', color: '#0000ff', x: v => xCal(v), depth: 4033.9, value: 7.73, knee: [35, 33], end: 85, anchor: 'start'},
  {text: 'Neutron Porosity', color: '#0000ff', x: v => rightX + xPor(v), depth: 4023.6, value: 0.121, knee: [-25, 26], end: -73, anchor: 'end'},
  {text: 'Pe', color: '#ff0000', x: v => rightX + xPe(v), depth: 4032.3, value: 2.04, knee: [35, 33], end: 82, anchor: 'start'},
  {text: 'DensityPorosity', color: '#000', x: v => rightX + xPor(v), depth: 4032.6, value: 0.182, knee: [25, 31], end: 76, anchor: 'start'},
  {text: 'DensityCorr', color: '#ff00ff', x: v => rightX + xDrho(v), depth: 4032.1, value: -0.006, knee: [34, 36], end: 81, anchor: 'start'},
  {text: 'Tension', color: '#0000ff', x: v => rightX + xTen(v), depth: 4080.9, value: 4500, knee: [-22, 25], end: -70, anchor: 'end'}
];

const gLabels = svg.append('g');
curveLabels.forEach(l => {
  const tx = l.x(l.value);
  const ty = y(l.depth);
  const kx = tx + l.knee[0];
  const ky = ty + l.knee[1];
  const ex = tx + l.end;
  const dx = tx - kx, dy = ty - ky;
  const len = Math.hypot(dx, dy);
  const ux = dx / len, uy = dy / len;
  const headL = 20, headW = 7;
  const bx = tx - ux * headL, by = ty - uy * headL;
  gLabels.append('polyline')
    .attr('points', [[ex, ky], [kx, ky], [bx, by]].map(p => p.join(',')).join(' '))
    .attr('fill', 'none')
    .attr('stroke', l.color)
    .attr('stroke-width', 2.4);
  gLabels.append('polygon')
    .attr('points', [[tx, ty], [bx - uy * headW, by + ux * headW], [bx + uy * headW, by - ux * headW]]
      .map(p => p.join(',')).join(' '))
    .attr('fill', l.color);
  gLabels.append('text')
    .attr('x', ex + (l.anchor === 'start' ? 3 : -3))
    .attr('y', ky + 6)
    .attr('text-anchor', l.anchor)
    .attr('font-family', fontFamily)
    .attr('font-size', 24)
    .attr('fill', l.color)
    .text(l.text);
});
</script>
</body>
</html>
